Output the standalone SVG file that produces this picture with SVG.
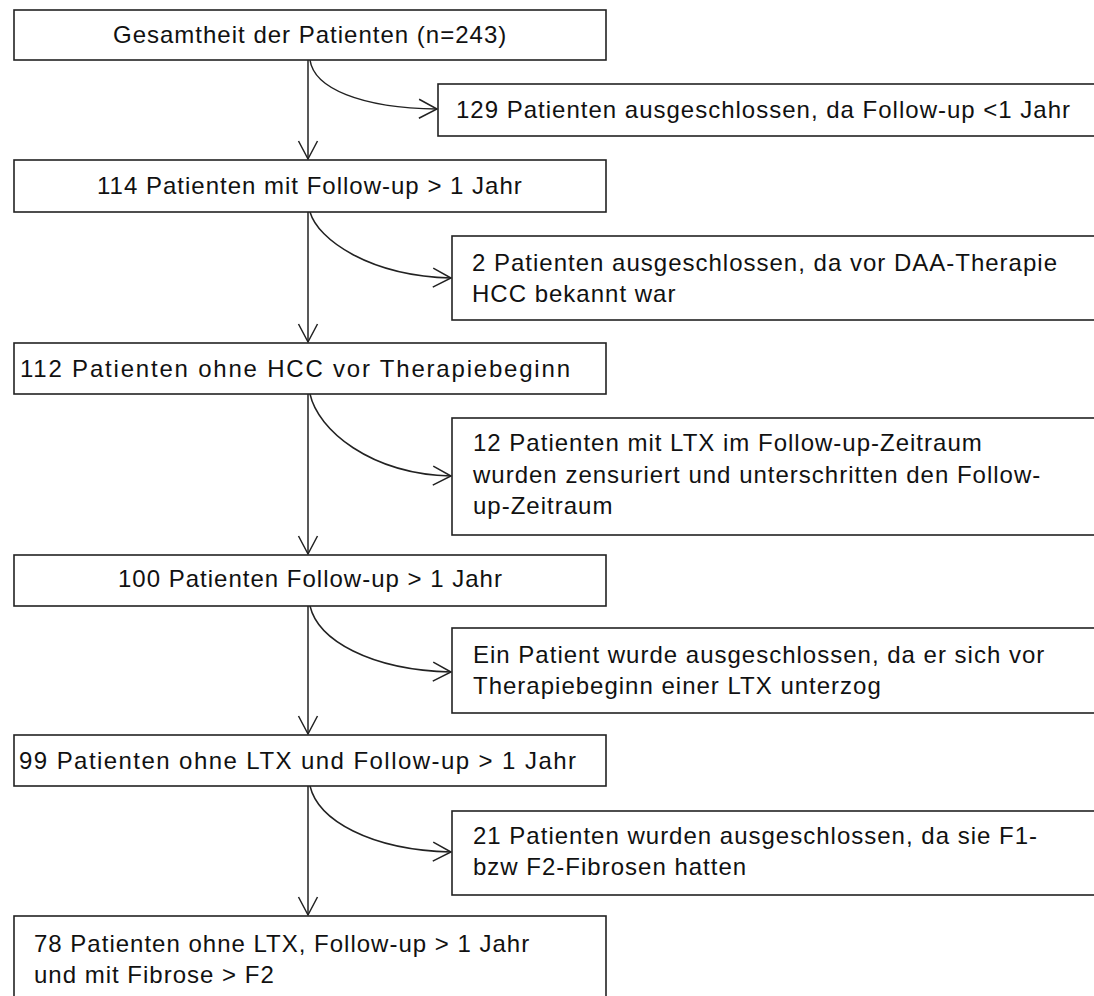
<svg xmlns="http://www.w3.org/2000/svg" width="1094" height="996" viewBox="0 0 1094 996">
<style>
.box{fill:#fff;stroke:#222;stroke-width:1.6}
.t{font-family:"Liberation Sans",Arial,sans-serif;font-size:24px;letter-spacing:1px;fill:#111}
.c{fill:none;stroke:#222;stroke-width:1.5}
</style>
<defs>
<marker id="ah" markerUnits="userSpaceOnUse" markerWidth="24" markerHeight="24" viewBox="-20 -12 22 24" refX="0" refY="0" orient="auto">
<path d="M-18,-9.5 L0,0 L-18,9.5" fill="none" stroke="#222" stroke-width="1.5"/>
</marker>
</defs>
<rect width="1094" height="996" fill="#fff"/>
<g id="connectors">
<line class="c" x1="308" y1="60" x2="308" y2="159" marker-end="url(#ah)"/>
<line class="c" x1="308" y1="212" x2="308" y2="342" marker-end="url(#ah)"/>
<line class="c" x1="308" y1="394" x2="308" y2="554" marker-end="url(#ah)"/>
<line class="c" x1="308" y1="606" x2="308" y2="734" marker-end="url(#ah)"/>
<line class="c" x1="308" y1="786" x2="308" y2="915" marker-end="url(#ah)"/>
<path class="c" d="M310 60 C314 88,360 108,437 109" marker-end="url(#ah)"/>
<path class="c" d="M310 212 C318 240,370 276,451 278" marker-end="url(#ah)"/>
<path class="c" d="M310 394 C318 430,370 474,451 476" marker-end="url(#ah)"/>
<path class="c" d="M310 606 C318 640,370 670,451 672" marker-end="url(#ah)"/>
<path class="c" d="M310 786 C318 820,370 850,451 852" marker-end="url(#ah)"/>
</g>
<g id="n1"><rect class="box" x="14" y="10" width="592" height="50"/><text class="t" x="113" y="43">Gesamtheit der Patienten (n=243)</text></g>
<g id="r1"><rect class="box" x="438" y="84" width="670" height="52"/><text class="t" x="456" y="118">129 Patienten ausgeschlossen, da Follow-up &lt;1 Jahr</text></g>
<g id="n2"><rect class="box" x="14" y="160" width="592" height="52"/><text class="t" x="97" y="194">114 Patienten mit Follow-up &gt; 1 Jahr</text></g>
<g id="r2"><rect class="box" x="452" y="236" width="660" height="84"/><text class="t" x="472" y="271">2 Patienten ausgeschlossen, da vor DAA-Therapie</text><text class="t" x="472" y="302">HCC bekannt war</text></g>
<g id="n3"><rect class="box" x="14" y="343" width="592" height="51"/><text class="t" x="20" y="377" textLength="551" lengthAdjust="spacing">112 Patienten ohne HCC vor Therapiebeginn</text></g>
<g id="r3"><rect class="box" x="452" y="418" width="660" height="117"/><text class="t" x="473" y="451">12 Patienten mit LTX im Follow-up-Zeitraum</text><text class="t" x="473" y="483">wurden zensuriert und unterschritten den Follow-</text><text class="t" x="473" y="514">up-Zeitraum</text></g>
<g id="n4"><rect class="box" x="14" y="555" width="592" height="51"/><text class="t" x="118" y="587">100 Patienten Follow-up &gt; 1 Jahr</text></g>
<g id="r4"><rect class="box" x="452" y="628" width="660" height="85"/><text class="t" x="473" y="663">Ein Patient wurde ausgeschlossen, da er sich vor</text><text class="t" x="473" y="694">Therapiebeginn einer LTX unterzog</text></g>
<g id="n5"><rect class="box" x="14" y="735" width="592" height="51"/><text class="t" x="19" y="769" textLength="558" lengthAdjust="spacing">99 Patienten ohne LTX und Follow-up &gt; 1 Jahr</text></g>
<g id="r5"><rect class="box" x="452" y="811" width="660" height="84"/><text class="t" x="473" y="844">21 Patienten wurden ausgeschlossen, da sie F1-</text><text class="t" x="473" y="875">bzw F2-Fibrosen hatten</text></g>
<g id="n6"><rect class="box" x="14" y="916" width="592" height="100"/><text class="t" x="34" y="952">78 Patienten ohne LTX, Follow-up &gt; 1 Jahr</text><text class="t" x="34" y="983">und mit Fibrose &gt; F2</text></g>
</svg>
